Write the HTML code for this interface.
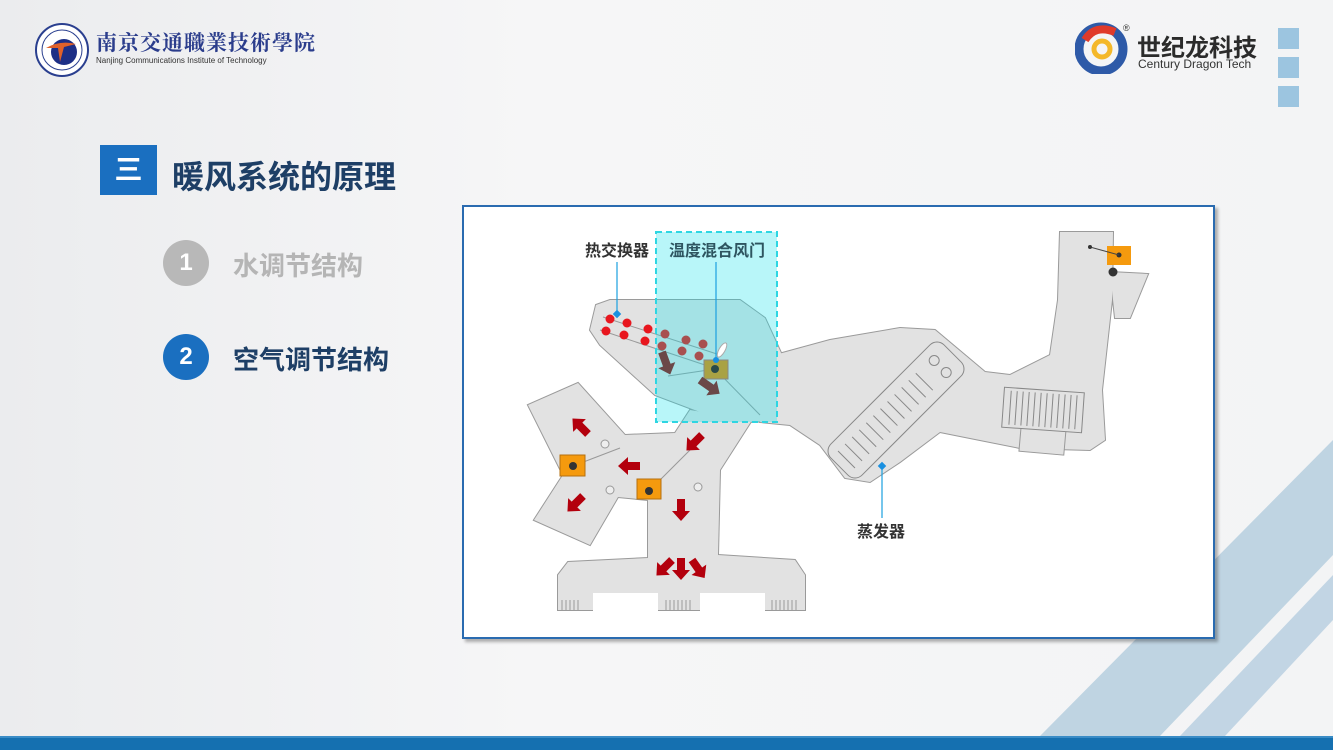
<!DOCTYPE html>
<html><head><meta charset="utf-8"><style>
body{margin:0;width:1333px;height:750px;overflow:hidden;font-family:"Liberation Sans","Noto Sans CJK SC",sans-serif;}
#bg{position:absolute;left:0;top:0;width:1333px;height:750px;background:linear-gradient(90deg,#ebecee 0%,#f6f6f7 40%,#f3f4f5 100%);}
.abs{position:absolute;}
</style></head><body>
<div id="bg"></div>
<svg class="abs" style="left:0;top:0" width="1333" height="750">
  <polygon points="1333,440 1333,555 1160,736 1040,736" fill="#b9d0e0" opacity="0.9"/>
  <polygon points="1333,575 1333,620 1225,736 1180,736" fill="#bcd2e2" opacity="0.9"/>
  <rect x="0" y="736" width="1333" height="14" fill="#1570b0"/>
  <rect x="0" y="736" width="1333" height="2" fill="#3a8cc6"/>
</svg>
<!-- logos -->
<svg class="abs" style="left:34px;top:22px" width="56" height="56">
  <circle cx="28" cy="28" r="26" fill="#fff" stroke="#2a3f8f" stroke-width="2"/>
  <circle cx="28" cy="28" r="20" fill="none" stroke="#2a3f8f" stroke-width="1"/>
  <circle cx="30" cy="30" r="13" fill="#1d2f86"/>
  <path d="M12 26 Q26 18 42 22 L30 25 L26 40 L24 26 Z" fill="#e0612a"/>
</svg>
<div class="abs" style="left:96px;top:27px;font-family:'Noto Serif CJK SC',serif;font-size:21px;font-weight:bold;color:#2b3d8c;letter-spacing:1px">南京交通職業技術學院</div>
<div class="abs" style="left:96px;top:56px;font-size:8px;color:#333">Nanjing Communications Institute of Technology</div>
<svg class="abs" style="left:1075px;top:22px" width="56" height="52">
  <circle cx="26" cy="27" r="22" fill="none" stroke="#2e5aa8" stroke-width="9"/>
  <path d="M10 18 Q20 2 40 10" fill="none" stroke="#e03a2a" stroke-width="8"/>
  <circle cx="27" cy="27" r="8" fill="none" stroke="#f4b82a" stroke-width="5"/>
  <text x="48" y="9" font-size="9" fill="#333">®</text>
</svg>
<div class="abs" style="left:1137px;top:28px;font-size:24px;font-weight:bold;color:#2b2b2b">世纪龙科技</div>
<div class="abs" style="left:1138px;top:57px;font-size:12px;color:#333">Century Dragon Tech</div>
<div class="abs" style="left:1278px;top:28px;width:21px;height:21px;background:#9cc5e0"></div>
<div class="abs" style="left:1278px;top:57px;width:21px;height:21px;background:#9cc5e0"></div>
<div class="abs" style="left:1278px;top:86px;width:21px;height:21px;background:#9cc5e0"></div>
<!-- title -->
<div class="abs" style="left:100px;top:145px;width:57px;height:50px;background:#1a6fc0;color:#fff;font-size:28px;font-weight:bold;text-align:center;line-height:50px">三</div>
<div class="abs" style="left:172px;top:152px;font-size:32px;font-weight:bold;color:#1e3f66">暖风系统的原理</div>
<div class="abs" style="left:163px;top:240px;width:46px;height:46px;border-radius:50%;background:#b8b8b8;color:#fff;font-size:24px;font-weight:bold;text-align:center;line-height:46px">1</div>
<div class="abs" style="left:233px;top:246px;font-size:26px;font-weight:bold;color:#b5b5b5">水调节结构</div>
<div class="abs" style="left:163px;top:334px;width:46px;height:46px;border-radius:50%;background:#1a6fc0;color:#fff;font-size:24px;font-weight:bold;text-align:center;line-height:46px">2</div>
<div class="abs" style="left:233px;top:340px;font-size:26px;font-weight:bold;color:#1e3f66">空气调节结构</div>
<!-- panel -->
<div class="abs" style="left:462px;top:205px;width:749px;height:430px;background:#fff;border:2px solid #2a6bb0;box-shadow:3px 3px 3px rgba(0,0,0,0.3)"></div>
<svg class="abs" style="left:0;top:0" width="1333" height="750">
<defs>
<g id="shapes">
<polygon points="596,305 610,300 740,300 765,318 782,355 785,420 748,422 700,412 655,395 600,345 590,330"/>
<polygon points="775,355 830,340 900,328 935,330 985,372 1010,375 1050,355 1058,300 1060,232 1113,232 1112,300 1102,390 1105,440 1090,450 1020,448 980,440 940,432 900,462 870,482 845,478 820,445 790,425 760,422"/>
<polygon points="690,410 752,420 720,470 718,555 795,560 805,575 805,610 558,610 558,575 568,562 648,558 648,500 618,497 590,545 534,520 563,475 528,405 578,383 625,435 675,433"/>
<polygon points="1110,272 1148,274 1130,318 1115,318"/>
</g>
</defs>
<use href="#shapes" fill="#e2e2e2" stroke="#9a9a9a" stroke-width="2"/>
<use href="#shapes" fill="#e2e2e2"/>
<rect x="1020" y="425" width="45" height="28" fill="#e2e2e2" stroke="#999" transform="rotate(5 1040 440)"/>
<!-- bottom vents -->
<rect x="593" y="593" width="65" height="20" fill="#fff"/>
<rect x="700" y="593" width="65" height="20" fill="#fff"/>
<g stroke="#999" stroke-width="1">
<path d="M562 600v10M566 600v10M570 600v10M574 600v10M578 600v10M666 600v10M670 600v10M674 600v10M678 600v10M682 600v10M686 600v10M690 600v10M772 600v10M776 600v10M780 600v10M784 600v10M788 600v10M792 600v10M796 600v10"/>
<path d="M600 330 L720 370 M603 317 L720 355" fill="none"/>
<path d="M715 369 L760 415 M715 369 L668 376 M573 466 L620 448 M649 491 L690 450"/>
</g>
<!-- evaporator -->
<g transform="translate(896 410) rotate(-45)">
<rect x="-80" y="-22" width="160" height="44" rx="10" fill="#e2e2e2" stroke="#888"/>
<g stroke="#888"><path d="M-70 -12v24M-60 -12v24M-50 -12v24M-40 -12v24M-30 -12v24M-20 -12v24M-10 -12v24M0 -12v24M10 -12v24M20 -12v24M30 -12v24M40 -12v24"/></g>
<circle cx="62" cy="-8" r="5" fill="none" stroke="#888"/><circle cx="62" cy="9" r="5" fill="none" stroke="#888"/>
</g>
<g transform="rotate(4 1043 410)">
<rect x="1003" y="390" width="80" height="40" fill="#e2e2e2" stroke="#888"/>
<path d="M1010 393v34M1016 393v34M1022 393v34M1028 393v34M1034 393v34M1040 393v34M1046 393v34M1052 393v34M1058 393v34M1064 393v34M1070 393v34M1076 393v34" stroke="#888"/>
</g>
<circle cx="605" cy="444" r="4" fill="#eee" stroke="#999"/><circle cx="610" cy="490" r="4" fill="#eee" stroke="#999"/><circle cx="698" cy="487" r="4" fill="#eee" stroke="#999"/>
<!-- cyan -->
<rect x="656" y="232" width="121" height="190" fill="rgba(20,225,235,0.3)" stroke="#2ed6e2" stroke-width="2" stroke-dasharray="6,4"/>
<!-- dots -->
<g fill="#e8161e"><circle cx="610" cy="319" r="4.5"/><circle cx="627" cy="323" r="4.5"/><circle cx="606" cy="331" r="4.5"/><circle cx="624" cy="335" r="4.5"/><circle cx="648" cy="329" r="4.5"/><circle cx="645" cy="341" r="4.5"/></g>
<g fill="#a85050"><circle cx="665" cy="334" r="4.5"/><circle cx="686" cy="340" r="4.5"/><circle cx="703" cy="344" r="4.5"/><circle cx="662" cy="346" r="4.5"/><circle cx="682" cy="351" r="4.5"/><circle cx="699" cy="356" r="4.5"/></g>
<ellipse cx="722" cy="350" rx="3" ry="8" fill="#fff" stroke="#aaa" transform="rotate(30 722 350)"/>
<rect x="704" y="360" width="24" height="19" fill="#a9a244" stroke="#888"/><circle cx="715" cy="369" r="4" fill="#2a4a4a"/>
<!-- brown arrows -->
<g fill="#6b4848">
<path d="M0 -4 H14 V-9 L24 0 L14 9 V4 H0Z" transform="translate(662 352) rotate(70)"/>
<path d="M0 -4 H14 V-9 L24 0 L14 9 V4 H0Z" transform="translate(700 380) rotate(35)"/>
</g>
<!-- red arrows -->
<g fill="#b3000d">
<path d="M0 -4 H12 V-9 L22 0 L12 9 V4 H0Z" transform="translate(588 434) rotate(-135)"/>
<path d="M0 -4 H12 V-9 L22 0 L12 9 V4 H0Z" transform="translate(640 466) rotate(180)"/>
<path d="M0 -4 H12 V-9 L22 0 L12 9 V4 H0Z" transform="translate(583 496) rotate(135)"/>
<path d="M0 -4 H12 V-9 L22 0 L12 9 V4 H0Z" transform="translate(702 435) rotate(135)"/>
<path d="M0 -4 H12 V-9 L22 0 L12 9 V4 H0Z" transform="translate(681 499) rotate(90)"/>
<path d="M0 -4 H12 V-9 L22 0 L12 9 V4 H0Z" transform="translate(672 560) rotate(135)"/>
<path d="M0 -4 H12 V-9 L22 0 L12 9 V4 H0Z" transform="translate(681 558) rotate(90)"/>
<path d="M0 -4 H12 V-9 L22 0 L12 9 V4 H0Z" transform="translate(692 560) rotate(55)"/>
</g>
<!-- orange boxes -->
<rect x="560" y="455" width="25" height="21" fill="#f59a0e" stroke="#b57010"/><circle cx="573" cy="466" r="4" fill="#333"/>
<rect x="637" y="479" width="24" height="20" fill="#f59a0e" stroke="#b57010"/><circle cx="649" cy="491" r="4" fill="#333"/>
<rect x="1107" y="246" width="24" height="19" fill="#f59a0e"/><circle cx="1119" cy="255" r="2.5" fill="#333"/>
<line x1="1090" y1="247" x2="1119" y2="255" stroke="#444"/><circle cx="1090" cy="247" r="2" fill="#333"/>
<circle cx="1113" cy="272" r="4.5" fill="#333"/>
<!-- leaders -->
<g stroke="#1aa0e0" stroke-width="1.2"><line x1="617" y1="262" x2="617" y2="314"/><line x1="716" y1="262" x2="716" y2="360"/><line x1="882" y1="466" x2="882" y2="518"/></g>
<g fill="#1a90e0"><rect x="614" y="311" width="6" height="6" transform="rotate(45 617 314)"/><circle cx="716" cy="360" r="3"/><rect x="879" y="463" width="6" height="6" transform="rotate(45 882 466)"/></g>
<g font-family="Liberation Sans,Noto Sans CJK SC,sans-serif" font-weight="bold" font-size="16">
<text x="585" y="256" fill="#333">热交换器</text>
<text x="669" y="256" fill="#2e5560">温度混合风门</text>
<text x="857" y="537" fill="#333">蒸发器</text>
</g>
</svg>
</body></html>
